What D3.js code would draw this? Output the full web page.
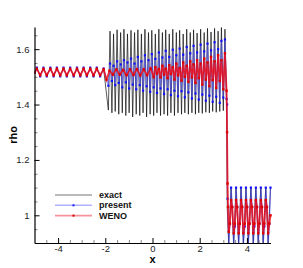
<!DOCTYPE html>
<html>
<head>
<meta charset="utf-8">
<script src="https://cdn.jsdelivr.net/npm/d3@7"></script>
<style>
  body { margin: 0; background: #fff; }
  svg text { font-family: Arial, "Liberation Sans", sans-serif; }
</style>
</head>
<body>
<div id="chart"></div>
<script>
// ---- data ----
// left part, shared x positions (x from -5 to -2)
var xLeft = [-5.00, -4.90, -4.76, -4.62, -4.48, -4.33, -4.19, -4.05, -3.91, -3.77, -3.63,
  -3.49, -3.34, -3.20, -3.06, -2.92, -2.78, -2.64, -2.50, -2.36, -2.22, -2.07];
var exactLeft = [1.515, 1.530, 1.505, 1.530, 1.505, 1.530, 1.505, 1.530, 1.505, 1.530, 1.505,
  1.530, 1.505, 1.530, 1.505, 1.530, 1.505, 1.530, 1.505, 1.530, 1.505, 1.528];
var presentLeft = [1.516, 1.533, 1.502, 1.533, 1.502, 1.533, 1.502, 1.533, 1.502, 1.533, 1.502,
  1.533, 1.502, 1.533, 1.502, 1.533, 1.502, 1.533, 1.502, 1.533, 1.502, 1.530];
var wenoLeft = [1.515, 1.529, 1.506, 1.529, 1.506, 1.529, 1.506, 1.529, 1.506, 1.529, 1.506,
  1.529, 1.506, 1.529, 1.506, 1.529, 1.506, 1.529, 1.506, 1.529, 1.506, 1.527];

// middle part (x from -2 to 3.2), exact and present share x
var xMid = [-1.87, -1.80, -1.72, -1.65, -1.58, -1.50, -1.43, -1.35, -1.28, -1.21, -1.13, -1.06,
  -0.99, -0.91, -0.84, -0.76, -0.69, -0.62, -0.54, -0.47, -0.40, -0.32, -0.25, -0.17, -0.10,
  -0.03, 0.05, 0.12, 0.19, 0.27, 0.34, 0.42, 0.49, 0.56, 0.64, 0.71, 0.78, 0.86, 0.93, 1.01,
  1.08, 1.15, 1.23, 1.30, 1.37, 1.45, 1.52, 1.60, 1.67, 1.74, 1.82, 1.89, 1.96, 2.04, 2.11,
  2.19, 2.26, 2.33, 2.41, 2.48, 2.55, 2.63, 2.70, 2.78, 2.85, 2.92, 3.00, 3.07, 3.14];
var exactMid = [1.380, 1.665, 1.370, 1.655, 1.375, 1.670, 1.365, 1.660, 1.370, 1.672, 1.360, 1.655,
  1.370, 1.668, 1.355, 1.660, 1.365, 1.670, 1.360, 1.655, 1.370, 1.672, 1.355, 1.660, 1.365,
  1.668, 1.360, 1.655, 1.370, 1.672, 1.360, 1.660, 1.365, 1.670, 1.360, 1.655, 1.370, 1.672,
  1.360, 1.660, 1.370, 1.668, 1.365, 1.655, 1.370, 1.672, 1.365, 1.660, 1.370, 1.670, 1.365,
  1.658, 1.370, 1.672, 1.368, 1.660, 1.372, 1.675, 1.370, 1.662, 1.375, 1.675, 1.372, 1.665,
  1.375, 1.678, 1.378, 1.672, 1.380];
var presentMid = [1.468, 1.548, 1.485, 1.540, 1.470, 1.556, 1.478, 1.545, 1.462, 1.560, 1.480, 1.552,
  1.458, 1.566, 1.472, 1.548, 1.455, 1.572, 1.470, 1.556, 1.450, 1.578, 1.466, 1.560, 1.446,
  1.582, 1.462, 1.565, 1.442, 1.588, 1.458, 1.570, 1.438, 1.594, 1.455, 1.572, 1.434, 1.598,
  1.450, 1.578, 1.430, 1.602, 1.448, 1.580, 1.426, 1.608, 1.444, 1.585, 1.422, 1.612, 1.440,
  1.588, 1.418, 1.616, 1.436, 1.592, 1.414, 1.620, 1.432, 1.596, 1.410, 1.625, 1.428, 1.600,
  1.406, 1.630, 1.425, 1.635, 1.420];
var xWenoMid = [-1.95, -1.82, -1.68, -1.53, -1.39, -1.24, -1.10, -0.95, -0.81, -0.66, -0.52, -0.37,
  -0.23, -0.08, 0.05, 0.12, 0.19, 0.27, 0.34, 0.42, 0.49, 0.56, 0.64, 0.71, 0.78, 0.86, 0.93,
  1.01, 1.08, 1.15, 1.23, 1.30, 1.37, 1.45, 1.52, 1.60, 1.67, 1.74, 1.82, 1.89, 1.96, 2.04,
  2.11, 2.19, 2.26, 2.33, 2.41, 2.48, 2.55, 2.63, 2.70, 2.78, 2.85, 2.92, 3.00, 3.07, 3.14];
var wenoMid = [1.490, 1.522, 1.508, 1.527, 1.508, 1.525, 1.506, 1.527, 1.507, 1.528, 1.505, 1.527,
  1.506, 1.530, 1.500, 1.535, 1.512, 1.528, 1.498, 1.540, 1.508, 1.530, 1.495, 1.542, 1.510,
  1.535, 1.490, 1.548, 1.505, 1.532, 1.486, 1.552, 1.500, 1.540, 1.482, 1.556, 1.498, 1.545,
  1.478, 1.560, 1.495, 1.548, 1.472, 1.566, 1.490, 1.552, 1.466, 1.572, 1.488, 1.556, 1.460,
  1.578, 1.485, 1.560, 1.455, 1.585, 1.450];

// shock (x about 3.2)
var xExactShock = [3.17];
var exactShock = [1.02];
var xPresentShock = [3.16, 3.18];
var presentShock = [1.40, 1.06];
var xWenoShock = [3.16, 3.18, 3.20];
var wenoShock = [1.30, 1.115, 1.03];

// right part (x from 3.2 to 5), shared x
var xRight = [3.23, 3.28, 3.33, 3.38, 3.44, 3.49, 3.54, 3.59, 3.65, 3.70, 3.75, 3.80, 3.85, 3.91,
  3.96, 4.01, 4.06, 4.11, 4.17, 4.22, 4.27, 4.32, 4.38, 4.43, 4.48, 4.53, 4.59, 4.64, 4.69,
  4.74, 4.80, 4.85, 4.90, 4.95, 5.00];
var exactRight = [0.90, 1.00, 1.10, 1.00, 0.90, 1.00, 1.10, 1.00, 0.90, 1.00, 1.10, 1.00, 0.90, 1.00,
  1.10, 1.00, 0.90, 1.00, 1.10, 1.00, 0.90, 1.00, 1.10, 1.00, 0.90, 1.00, 1.10, 1.00, 0.90,
  1.00, 1.10, 1.00, 0.90, 1.00, 1.10];
var presentRight = [0.895, 0.97, 1.10, 1.03, 0.895, 0.96, 1.10, 1.03, 0.895, 0.97, 1.10, 1.03, 0.895, 0.96,
  1.10, 1.03, 0.895, 0.97, 1.10, 1.03, 0.895, 0.96, 1.10, 1.03, 0.895, 0.97, 1.10, 1.03, 0.895,
  0.96, 1.10, 1.03, 0.895, 0.97, 1.10];
var wenoRight = [0.94, 0.97, 1.055, 1.03, 0.935, 0.97, 1.055, 1.03, 0.935, 0.97, 1.055, 1.03, 0.935, 0.97,
  1.055, 1.03, 0.935, 0.97, 1.055, 1.03, 0.935, 0.97, 1.055, 1.03, 0.935, 0.97, 1.055, 1.03, 0.935,
  0.97, 1.055, 1.03, 0.935, 0.97, 1.00];

var xTicks = [-4, -2, 0, 2, 4];
var xTickLabels = ["-4", "-2", "0", "2", "4"];
var xMinorTicks = [-4.5, -3.5, -3, -2.5, -1.5, -1, -0.5, 0.5, 1, 1.5, 2.5, 3, 3.5, 4.5];
var yTicks = [1, 1.2, 1.4, 1.6];
var yTickLabels = ["1", "1.2", "1.4", "1.6"];
var yMinorTicks = [0.95, 1.05, 1.1, 1.15, 1.25, 1.3, 1.35, 1.45, 1.5, 1.55, 1.65];
var seriesNames = ["exact", "present", "WENO"];

// ---- build point lists ----
function zipPts(xs, ys) {
  return xs.map(function (x, i) { return { x: x, y: ys[i] }; });
}
var exactPts = zipPts(xLeft, exactLeft).concat(zipPts(xMid, exactMid),
  zipPts(xExactShock, exactShock), zipPts(xRight, exactRight));
var presentPts = zipPts(xLeft, presentLeft).concat(zipPts(xMid, presentMid),
  zipPts(xPresentShock, presentShock), zipPts(xRight, presentRight));
var wenoPts = zipPts(xLeft, wenoLeft).concat(zipPts(xWenoMid, wenoMid),
  zipPts(xWenoShock, wenoShock), zipPts(xRight, wenoRight));

// ---- chart ----
var W = 303, H = 268;
var svg = d3.select("#chart").append("svg").attr("width", W).attr("height", H);

var x = d3.scaleLinear().domain([-5, 5]).range([34.5, 270.5]);
var y = d3.scaleLinear().domain([0.9, 1.68]).range([243, 27]);

svg.append("clipPath").attr("id", "clip")
  .append("rect")
  .attr("x", x(-5)).attr("y", y(1.68))
  .attr("width", x(5) - x(-5) + 2).attr("height", y(0.9) - y(1.68));

var line = d3.line().x(function (d) { return x(d.x); }).y(function (d) { return y(d.y); });
var plot = svg.append("g").attr("clip-path", "url(#clip)");

plot.append("path").datum(exactPts)
  .attr("d", line).attr("fill", "none")
  .attr("stroke", "#000").attr("stroke-opacity", 0.65).attr("stroke-width", 1);

plot.append("path").datum(presentPts)
  .attr("d", line).attr("fill", "none")
  .attr("stroke", "#3a3aff").attr("stroke-opacity", 0.55).attr("stroke-width", 1.3);
plot.selectAll(".pm").data(presentPts).enter().append("rect")
  .attr("class", "pm")
  .attr("x", function (d) { return x(d.x) - 1.1; })
  .attr("y", function (d) { return y(d.y) - 1.1; })
  .attr("width", 2.2).attr("height", 2.2)
  .attr("fill", "#1010ff");

plot.append("path").datum(wenoPts)
  .attr("d", line).attr("fill", "none")
  .attr("stroke", "#f20a14").attr("stroke-opacity", 0.82).attr("stroke-width", 1.8);
plot.selectAll(".wm").data(wenoPts).enter().append("rect")
  .attr("class", "wm")
  .attr("x", function (d) { return x(d.x) - 1.2; })
  .attr("y", function (d) { return y(d.y) - 1.2; })
  .attr("width", 2.4).attr("height", 2.4)
  .attr("fill", "#e00000");

// ---- axes (ticks point inward) ----
function styleAxis(g) {
  g.select(".domain").attr("stroke", "#000").attr("stroke-width", 1.2);
  g.selectAll("text").attr("fill", "#222").style("font-size", "9.5px");
}
svg.append("g").attr("transform", "translate(0," + y(0.9) + ")")
  .call(d3.axisBottom(x).tickValues(xMinorTicks).tickSize(-3).tickSizeOuter(0).tickFormat(""))
  .call(function (g) {
    g.select(".domain").remove();
    g.selectAll("line").attr("stroke", "#888");
  });
svg.append("g").attr("transform", "translate(0," + y(0.9) + ")")
  .call(d3.axisBottom(x).tickValues(xTicks).tickSize(-5).tickSizeOuter(0).tickPadding(2)
    .tickFormat(function (d, i) { return xTickLabels[i]; }))
  .call(styleAxis);

svg.append("g").attr("transform", "translate(" + x(-5) + ",0)")
  .call(d3.axisLeft(y).tickValues(yMinorTicks).tickSize(-3).tickSizeOuter(0).tickFormat(""))
  .call(function (g) {
    g.select(".domain").remove();
    g.selectAll("line").attr("stroke", "#888");
  });
svg.append("g").attr("transform", "translate(" + x(-5) + ",0)")
  .call(d3.axisLeft(y).tickValues(yTicks).tickSize(-5).tickSizeOuter(0).tickPadding(5)
    .tickFormat(function (d, i) { return yTickLabels[i]; }))
  .call(styleAxis);

// axis titles
svg.append("text")
  .attr("x", x(0)).attr("y", 263)
  .attr("text-anchor", "middle")
  .style("font-size", "11px").style("font-weight", "bold")
  .text("x");
svg.append("text")
  .attr("transform", "translate(17," + y(1.29) + ") rotate(-90)")
  .attr("text-anchor", "middle")
  .style("font-size", "11px").style("font-weight", "bold")
  .text("rho");

// ---- legend ----
var legendColors = ["#000", "#3a3aff", "#e8101a"];
var legendOpacity = [0.55, 0.4, 0.45];
var markColors = [null, "#1a1aff", "#d80000"];
var legend = svg.append("g");
seriesNames.forEach(function (name, i) {
  var ly = 195 + i * 10.3;
  legend.append("line")
    .attr("x1", 55).attr("x2", 92).attr("y1", ly).attr("y2", ly)
    .attr("stroke", legendColors[i]).attr("stroke-opacity", legendOpacity[i])
    .attr("stroke-width", i === 0 ? 1 : 1.6);
  if (markColors[i]) {
    legend.append("rect")
      .attr("x", 72.5).attr("y", ly - 1).attr("width", 2).attr("height", 2)
      .attr("fill", markColors[i]);
  }
  legend.append("text")
    .attr("x", 99).attr("y", ly).attr("dy", "0.35em")
    .style("font-size", "9px").style("font-weight", "bold").attr("fill", "#111")
    .text(name);
});
</script>
</body>
</html>
